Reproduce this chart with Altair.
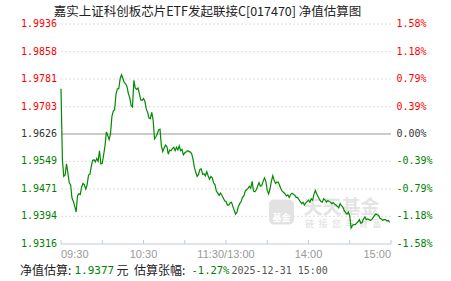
import altair as alt
import pandas as pd

BASE = 1.9626  # previous NAV (the 0.00% line)

# estimated change (%) for each minute, 09:30 -> 15:00 (lunch break removed)
pct = [
    0.65, -0.36, -0.61, -0.59, -0.43, -0.56, -0.70, -0.73, -0.92, -0.97,
    -1.04, -1.12, -0.89, -0.86, -0.87, -0.76, -0.71, -0.73, -0.79, -0.73,
    -0.59, -0.58, -0.47, -0.38, -0.37, -0.40, -0.35, -0.39, -0.24, -0.43,
    -0.42, -0.30, -0.17, 0.03, -0.02, -0.08, 0.00, 0.25, 0.33, 0.35,
    0.57, 0.65, 0.65, 0.79, 0.85, 0.80, 0.74, 0.72, 0.68, 0.58,
    0.52, 0.41, 0.39, 0.77, 0.66, 0.64, 0.66, 0.58, 0.49, 0.48,
    0.51, 0.47, 0.36, 0.31, 0.23, 0.22, 0.31, 0.20, -0.07, -0.04,
    0.00, 0.06, 0.07, -0.17, -0.25, -0.20, -0.16, -0.18, -0.29, -0.23,
    -0.24, -0.21, -0.19, -0.24, -0.19, -0.23, -0.17, -0.24, -0.22, -0.30,
    -0.27, -0.26, -0.24, -0.25, -0.26, -0.28, -0.36, -0.48,
    -0.55, -0.61, -0.58, -0.51, -0.50, -0.58, -0.57, -0.60, -0.54, -0.60,
    -0.65, -0.61, -0.63, -0.70, -0.73, -0.82, -0.85, -0.88, -0.85, -0.88,
    -0.92, -0.96, -0.97, -1.02, -1.02, -0.99, -0.98, -1.04, -1.10, -1.15,
    -1.12, -1.04, -1.00, -0.97, -0.91, -0.89, -0.82, -0.80, -0.78, -0.75,
    -0.78, -0.68, -0.82, -0.83, -0.80, -0.75, -0.70, -0.75, -0.74, -0.68,
    -0.63, -0.68, -0.81, -0.86, -0.79, -0.68, -0.60, -0.66, -0.71, -0.69,
    -0.69, -0.74,
    -0.79, -0.825, -0.84, -0.86, -0.89, -0.875, -0.91, -0.87, -0.85, -0.865,
    -0.88, -0.91, -0.91, -0.94, -0.97, -1.00, -0.98, -1.02, -0.99, -0.97,
    -0.95, -0.98, -0.93, -0.95, -0.86, -0.81, -0.86, -0.90, -0.94, -0.97,
    -0.98, -0.93, -0.945, -0.98, -0.955, -0.97, -0.98, -1.00, -0.985, -1.01,
    -1.02, -1.04, -1.06,
    -1.00, -1.03, -1.05, -1.10, -1.13, -1.15, -1.12, -1.18, -1.35, -1.31,
    -1.30, -1.30, -1.28, -1.26, -1.23, -1.28, -1.27, -1.22, -1.19, -1.23,
    -1.22, -1.23, -1.24, -1.23, -1.20, -1.17, -1.15, -1.16, -1.17, -1.21,
    -1.22, -1.24, -1.23, -1.23, -1.25, -1.24, -1.27,
]
minutes = list(range(len(pct)))

nav_labels = ["1.9936", "1.9858", "1.9781", "1.9703", "1.9626",
              "1.9549", "1.9471", "1.9394", "1.9316"]
pct_labels = ["1.58%", "1.18%", "0.79%", "0.39%", "0.00%",
              "-0.39%", "-0.79%", "-1.18%", "-1.58%"]
tick_minutes = [0, 30, 60, 90, 120, 150, 180, 210, 240]
time_labels = ["09:30", "10:30", "11:30/13:00", "14:00", "15:00"]
time_label_minutes = [0, 60, 120, 180, 240]

title_text = "嘉实上证科创板芯片ETF发起联接C[017470] 净值估算图"
est_nav = "1.9377"
est_pct = "-1.27%"
est_time = "2025-12-31 15:00"

RED, GREEN, DARK = "#ff0000", "#008000", "#333333"
W, H = 330, 220

xs = alt.Scale(domain=[0, 240], nice=False, zero=False)
ys = alt.Scale(domain=[1.9316, 1.9936], nice=False, zero=False)

line_df = pd.DataFrame({"m": minutes, "nav": [BASE * (1 + p / 100) for p in pct]})

grid_vals = [float(v) for v in nav_labels]
grid_df = pd.DataFrame({
    "v": grid_vals,
    "navl": nav_labels,
    "pctl": pct_labels,
    "c": [RED if v > BASE else (GREEN if v < BASE else DARK) for v in grid_vals],
})
dotted_df = grid_df[(grid_df.v != BASE) & (grid_df.v != min(grid_vals))]
zero_df = grid_df[grid_df.v == BASE]
bottom_df = grid_df[grid_df.v == min(grid_vals)]
tick_df = pd.DataFrame({"m": tick_minutes})
tl_df = pd.DataFrame({"m": time_label_minutes, "t": time_labels})
one = pd.DataFrame({"k": [0]})

Y = lambda: alt.Y("v:Q", scale=ys, axis=None)

grid = alt.Chart(dotted_df).mark_rule(color="#dedede", strokeDash=[2, 2], strokeWidth=1).encode(
    y=Y(), x=alt.value(0), x2=alt.value(W))
zero = alt.Chart(zero_df).mark_rule(color="#9a9a9a", strokeWidth=1.2).encode(
    y=Y(), x=alt.value(0), x2=alt.value(W))
axis_line = alt.Chart(bottom_df).mark_rule(color="#c0ccd8", strokeWidth=1.2).encode(
    y=Y(), x=alt.value(0), x2=alt.value(W))
ticks = alt.Chart(tick_df).mark_rule(color="#c0ccd8", strokeWidth=1).encode(
    x=alt.X("m:Q", scale=xs, axis=None), y=alt.value(H - 4), y2=alt.value(H))

# watermark
wm_icon = alt.Chart(one).mark_rect(color="#e2e2e2", cornerRadius=5).encode(
    x=alt.value(208), x2=alt.value(233), y=alt.value(175.5), y2=alt.value(200.5))
wm_icon_txt = alt.Chart(one).mark_text(text="基金", color="#ffffff", font="Noto Sans CJK SC",
                                       fontSize=9, fontWeight="bold", align="center",
                                       baseline="middle").encode(x=alt.value(220.5), y=alt.value(194))
wm_big = alt.Chart(one).mark_text(text="天天基金", color="#e4e4e4", font="Noto Sans CJK SC",
                                  fontSize=19, fontWeight="bold", align="left",
                                  baseline="middle").encode(x=alt.value(242.5), y=alt.value(183.5))
wm_small = alt.Chart(one).mark_text(text="链\u2002接\u2002您\u2002与\u2002财\u2002富", color="#dcdcdc",
                                    font="Noto Sans CJK SC", fontSize=9, align="left",
                                    baseline="middle").encode(x=alt.value(244), y=alt.value(200))

line = alt.Chart(line_df).mark_line(color="#008a00", strokeWidth=1.2).encode(
    x=alt.X("m:Q", scale=xs, axis=None), y=alt.Y("nav:Q", scale=ys, axis=None))

left_lbl = alt.Chart(grid_df).mark_text(align="right", baseline="middle", font="DejaVu Sans Mono",
                                        fontSize=10).encode(
    y=Y(), x=alt.value(-4), text="navl:N", color=alt.Color("c:N", scale=None))
right_lbl = alt.Chart(grid_df).mark_text(align="left", baseline="middle", font="DejaVu Sans Mono",
                                         fontSize=10).encode(
    y=Y(), x=alt.value(W + 5.5), text="pctl:N", color=alt.Color("c:N", scale=None))

def tl(sub, align):
    return alt.Chart(sub).mark_text(align=align, baseline="middle", font="Liberation Sans",
                                    fontSize=11, color="#999999").encode(
        x=alt.X("m:Q", scale=xs, axis=None), y=alt.value(H + 10.5), text="t:N")

tl_left = tl(tl_df.iloc[:1], "left")
tl_mid = tl(tl_df.iloc[1:-1], "center")
tl_right = tl(tl_df.iloc[-1:], "right")

title = alt.Chart(one).mark_text(text=title_text, align="center", baseline="middle",
                                 font="Noto Sans CJK SC", fontSize=12.5, color="#222222").encode(
    x=alt.value(146.5), y=alt.value(-12.5))

FY = 246.8
def ft(txt, x, color, font, size):
    return alt.Chart(one).mark_text(text=txt, align="left", baseline="middle", font=font,
                                    fontSize=size, color=color).encode(x=alt.value(x), y=alt.value(FY))

cjk = "Noto Sans CJK SC"
mono = "DejaVu Sans Mono"
footer = [
    ft("净值估算:", -41, "#222222", cjk, 12),
    ft(est_nav, 13.5, GREEN, mono, 11),
    ft("元", 55.5, "#222222", cjk, 12),
    ft("估算张幅:", 73, "#222222", cjk, 12),
    ft(est_pct, 130.5, GREEN, mono, 10.5),
    ft(est_time, 170.5, "#555555", mono, 10),
]

chart = alt.layer(
    grid, zero, wm_icon, wm_icon_txt, wm_big, wm_small, axis_line, ticks, line,
    left_lbl, right_lbl, tl_left, tl_mid, tl_right, title, *footer
).properties(
    width=W, height=H,
    autosize=alt.AutoSizeParams(type="none"),
    padding={"left": 61, "top": 24, "right": 60, "bottom": 37},
    background="#ffffff",
).configure_view(stroke=None)

chart.save("out.html", embed_options={"renderer": "svg", "actions": False})
